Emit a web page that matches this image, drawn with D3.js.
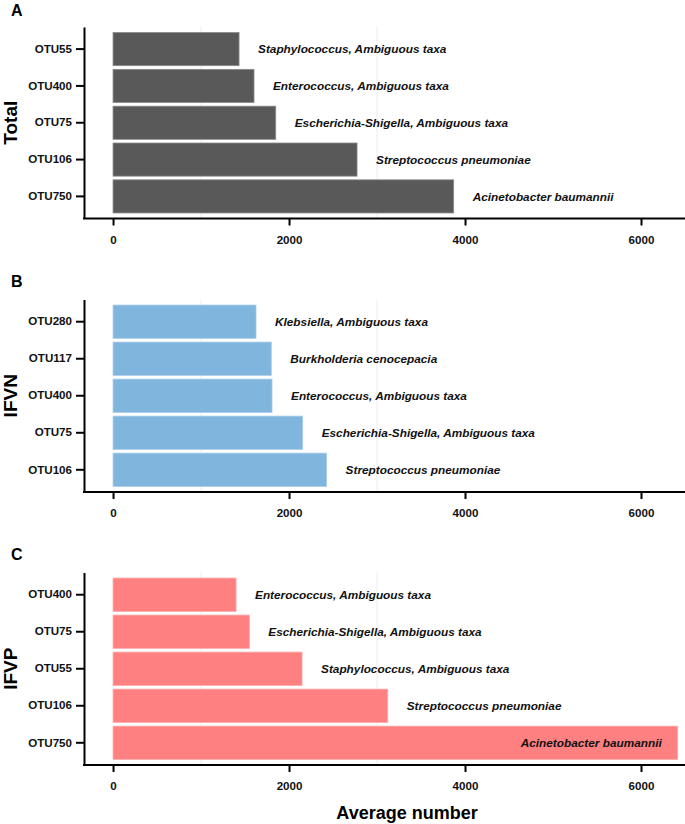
<!DOCTYPE html>
<html>
<head>
<meta charset="utf-8">
<script src="https://cdn.jsdelivr.net/npm/d3@7"></script>
<style>
  html, body { margin: 0; padding: 0; background: #fff; }
  svg { display: block; font-family: "Liberation Sans", Arial, sans-serif; }
</style>
</head>
<body>
<svg id="chart" width="685" height="824"></svg>
<script>
// ---- data ----
const totalOTUs = ["OTU55", "OTU400", "OTU75", "OTU106", "OTU750"];
const totalValues = [1432, 1602, 1849, 2773, 3871];
const totalTaxa = ["Staphylococcus, Ambiguous taxa", "Enterococcus, Ambiguous taxa",
  "Escherichia-Shigella, Ambiguous taxa", "Streptococcus pneumoniae", "Acinetobacter baumannii"];

const ifvnOTUs = ["OTU280", "OTU117", "OTU400", "OTU75", "OTU106"];
const ifvnValues = [1625, 1799, 1807, 2155, 2427];
const ifvnTaxa = ["Klebsiella, Ambiguous taxa", "Burkholderia cenocepacia",
  "Enterococcus, Ambiguous taxa", "Escherichia-Shigella, Ambiguous taxa", "Streptococcus pneumoniae"];

const ifvpOTUs = ["OTU400", "OTU75", "OTU55", "OTU106", "OTU750"];
const ifvpValues = [1398, 1549, 2148, 3122, 6417];
const ifvpTaxa = ["Enterococcus, Ambiguous taxa", "Escherichia-Shigella, Ambiguous taxa",
  "Staphylococcus, Ambiguous taxa", "Streptococcus pneumoniae", "Acinetobacter baumannii"];

const xTickValues = [0, 2000, 4000, 6000];
const xGridValues = [1000, 3000];
const xTitle = "Average number";

// ---- layout ----
const svg = d3.select("#chart");
const x = d3.scaleLinear().domain([-330, 6500]).range([84, 685]);

const panels = [
  { letter: "A", title: "Total", cats: totalOTUs, vals: totalValues, taxa: totalTaxa,
    fill: "#595959", edge: "#8a8a8a", top: 27, bottom: 218.5, letterY: 16 },
  { letter: "B", title: "IFVN", cats: ifvnOTUs, vals: ifvnValues, taxa: ifvnTaxa,
    fill: "#80b6de", edge: "#a9cdea", top: 299.5, bottom: 492, letterY: 287 },
  { letter: "C", title: "IFVP", cats: ifvpOTUs, vals: ifvpValues, taxa: ifvpTaxa,
    fill: "#fe8080", edge: "#ffaaaa", top: 572.5, bottom: 765, letterY: 560 }
];

panels.forEach(p => {
  const g = svg.append("g");
  const y = d3.scaleBand().domain(p.cats).range([p.top, p.bottom])
    .paddingInner(0.1).paddingOuter(0.15);

  // faint grid
  g.selectAll("line.grid").data(xGridValues).join("line")
    .attr("class", "grid")
    .attr("x1", d => x(d)).attr("x2", d => x(d))
    .attr("y1", p.top).attr("y2", p.bottom)
    .attr("stroke", "#ececec").attr("stroke-width", 1);

  const rows = p.cats.map((c, i) => ({ cat: c, val: p.vals[i], taxon: p.taxa[i] }));

  // bars
  g.selectAll("rect.bar").data(rows).join("rect")
    .attr("class", "bar")
    .attr("x", x(0))
    .attr("y", d => y(d.cat))
    .attr("width", d => x(d.val) - x(0))
    .attr("height", y.bandwidth())
    .attr("fill", p.fill)
    .attr("stroke", p.edge).attr("stroke-width", 0.8);

  // taxa labels
  g.selectAll("text.lab").data(rows).join("text")
    .attr("class", "lab")
    .attr("x", d => x(d.val) + 19)
    .attr("y", d => y(d.cat) + y.bandwidth() / 2)
    .attr("dy", "0.36em")
    .attr("font-size", 11.8)
    .attr("font-weight", "bold")
    .attr("font-style", "italic")
    .attr("fill", "#111")
    .text(d => d.taxon)
    .each(function(d) {
      const w = this.getComputedTextLength();
      if (x(d.val) + 19 + w > 680) {
        d3.select(this).attr("x", x(d.val) - 16).attr("text-anchor", "end");
      }
    });

  // y axis
  const ya = g.append("g").attr("transform", "translate(84,0)")
    .call(d3.axisLeft(y).tickSize(8).tickSizeOuter(0).tickPadding(4));
  ya.select(".domain").attr("stroke", "#000").attr("stroke-width", 2);
  ya.selectAll(".tick line").attr("stroke", "#000").attr("stroke-width", 2);
  ya.selectAll(".tick text").attr("font-size", 11.6).attr("font-weight", "bold")
    .attr("fill", "#111").attr("font-family", "Liberation Sans, Arial, sans-serif");

  // x axis
  const xa = g.append("g").attr("transform", `translate(0,${p.bottom})`)
    .call(d3.axisBottom(x).tickValues(xTickValues).tickSize(7).tickSizeOuter(0).tickPadding(10)
      .tickFormat(d3.format("d")));
  xa.select(".domain").attr("stroke", "#000").attr("stroke-width", 2)
    .attr("d", `M83,0H685`);
  xa.selectAll(".tick line").attr("stroke", "#000").attr("stroke-width", 2);
  xa.selectAll(".tick text").attr("font-size", 11.6).attr("font-weight", "bold")
    .attr("fill", "#111").attr("font-family", "Liberation Sans, Arial, sans-serif");

  // y title
  g.append("text")
    .attr("transform", `translate(17,${(p.top + p.bottom) / 2}) rotate(-90)`)
    .attr("text-anchor", "middle")
    .attr("font-size", 19).attr("font-weight", "bold").attr("fill", "#000")
    .text(p.title);

  // panel letter
  g.append("text")
    .attr("x", 11).attr("y", p.letterY)
    .attr("font-size", 16).attr("font-weight", "bold").attr("fill", "#000")
    .text(p.letter);
});

// x title
svg.append("text")
  .attr("x", 407).attr("y", 819)
  .attr("text-anchor", "middle")
  .attr("font-size", 18).attr("font-weight", "bold").attr("fill", "#000")
  .text(xTitle);
</script>
</body>
</html>
